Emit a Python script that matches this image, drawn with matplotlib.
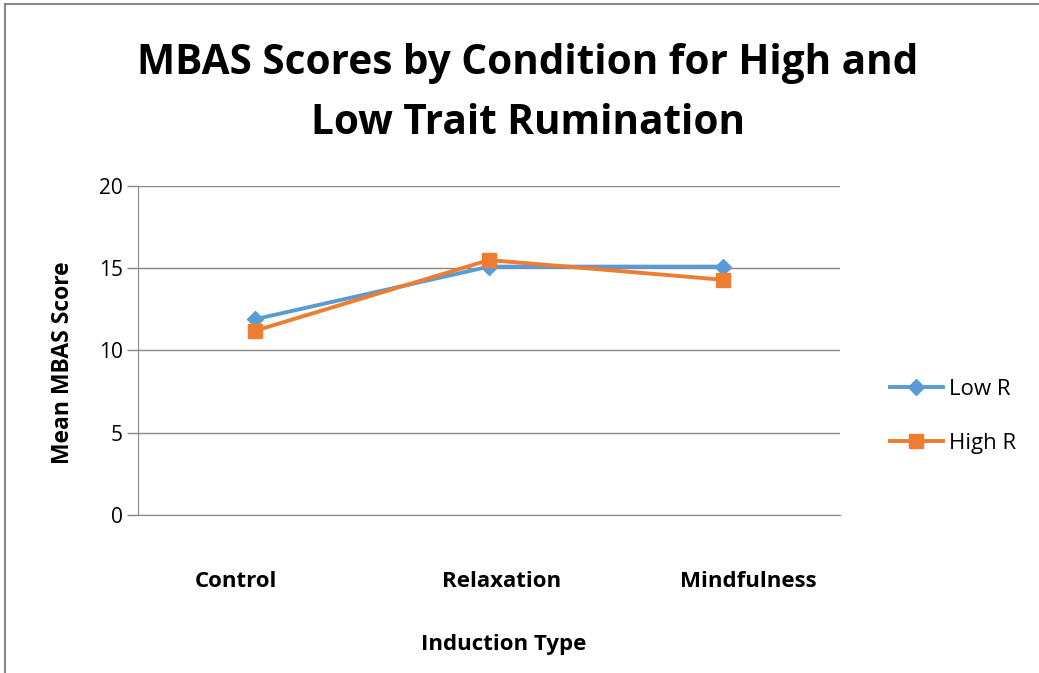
import matplotlib.pyplot as plt
import matplotlib.transforms as mtransforms
from matplotlib.lines import Line2D
from matplotlib.patches import Rectangle

conditions = ["Control", "Relaxation", "Mindfulness"]
low_r = [11.9, 15.1, 15.1]
high_r = [11.2, 15.5, 14.3]
y_ticks = [0, 5, 10, 15, 20]

BLUE = "#5b9bd5"
ORANGE = "#ed7d31"
GREY = "#878787"
FONT = "Open Sans"

fig = plt.figure(figsize=(10.39, 6.73), dpi=100)
ax = fig.add_axes([0.1328, 0.2348, 0.8085 - 0.1328, 0.7236 - 0.2348])

x = range(len(conditions))
ax.plot(x, low_r, color=BLUE, lw=2.8, marker="D", ms=8, label="Low R", zorder=3)
ax.plot(x, high_r, color=ORANGE, lw=2.8, marker="s", ms=10, label="High R", zorder=4)

ax.set_xlim(-0.5, len(conditions) - 0.5)
ax.set_ylim(0, 20)
ax.set_yticks(y_ticks)
ax.set_xticks(list(x))
ax.set_xticklabels([])
# the category labels in the original sit a little off their points
label_shift_px = [-19, 13, 25]
for i, (name, dx) in enumerate(zip(conditions, label_shift_px)):
    tr = ax.get_xaxis_transform() + mtransforms.ScaledTranslation(
        dx / 100, -0.67, fig.dpi_scale_trans)
    ax.text(i, 0, name, transform=tr, ha="center", va="center",
            fontsize=16, fontweight="bold", family=FONT)
for lab in ax.get_yticklabels():
    lab.set_fontsize(15)
    lab.set_family(FONT)
ax.tick_params(axis="x", length=0)
ax.tick_params(axis="y", length=8, color=GREY, width=1, pad=3)
ax.grid(axis="y", color=GREY, lw=1)
ax.set_axisbelow(True)
for side in ["top", "right"]:
    ax.spines[side].set_visible(False)
ax.spines["left"].set_color(GREY)
ax.spines["bottom"].set_color(GREY)

ax.set_ylabel("Mean MBAS Score", fontsize=16.5, fontweight="bold", family=FONT)
ax.yaxis.set_label_coords(-0.09, 0.462)
fig.text(0.485, 0.043, "Induction Type", ha="center", va="center",
         fontsize=16, fontweight="bold", family=FONT)

fig.text(0.508, 0.861, "MBAS Scores by Condition for High and\nLow Trait Rumination",
         ha="center", va="center", fontsize=29.2, fontweight="bold", family=FONT,
         linespacing=1.62)

handles = [
    Line2D([], [], color=BLUE, lw=2.8, marker="D", ms=8),
    Line2D([], [], color=ORANGE, lw=2.8, marker="s", ms=10),
]
fig.legend(handles, ["Low R", "High R"], loc="center left",
           bbox_to_anchor=(0.837, 0.381), frameon=False,
           prop={"family": FONT, "size": 16}, handlelength=2.4,
           labelspacing=1.47, handletextpad=0.27)

fig.patches.append(Rectangle((0.005, -0.05), 1.2, 1.044, transform=fig.transFigure,
                             fill=False, edgecolor=GREY, lw=1.5))

fig.savefig("out.png", dpi=100)
